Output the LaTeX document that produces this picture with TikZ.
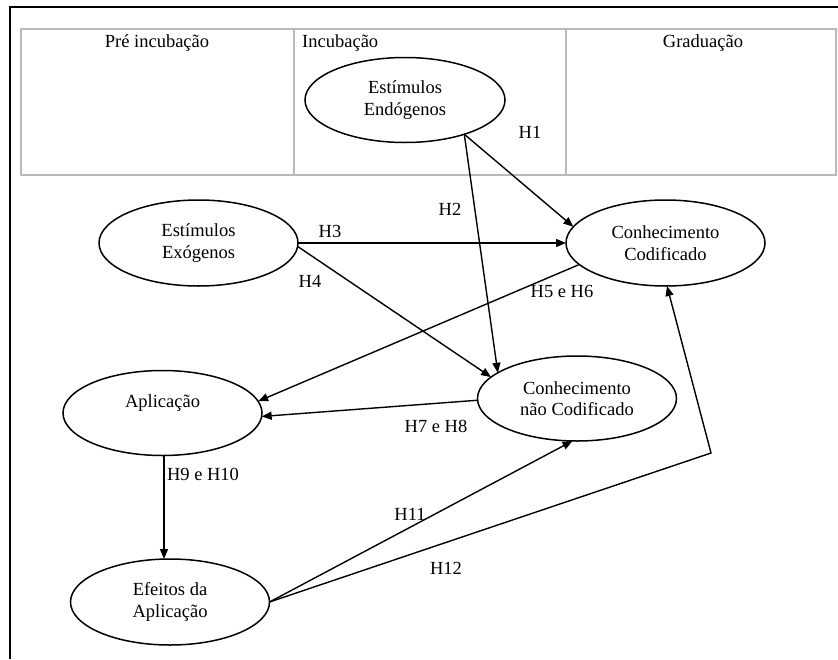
\documentclass[tikz,border=0pt]{standalone}
\usepackage{fontspec}
\setmainfont{Liberation Serif}
\usetikzlibrary{shapes.geometric,arrows.meta}
\begin{document}
\begin{tikzpicture}[x=1pt,y=-1pt,
  txt/.style={font=\fontsize{18.5}{21.5}\selectfont},
  oval/.style={draw,ellipse,line width=1.5pt,inner sep=0pt,outer sep=0pt,align=center,
    minimum width=199pt,minimum height=86pt,txt},
  lbl/.style={inner sep=0pt,txt},
  arr/.style={line width=1.4pt,-{Triangle[length=10pt,width=8pt]}},
  tabline/.style={draw=gray!55,line width=2pt},
  frame/.style={draw=black,line width=2pt}]
\useasboundingbox (0,0) rectangle (838,659);
% outer frame
\coordinate (fTL) at (10,7);
\coordinate (fTR) at (838,7);
\coordinate (fBL) at (10,659);
\draw[frame] (fBL) -- (fTL) -- (fTR);
% table
\coordinate (tTL) at (21,29);
\coordinate (tBR) at (836,175);
\draw[tabline] (tTL) rectangle (tBR);
\coordinate (d1t) at (294,29); \coordinate (d1b) at (294,175);
\coordinate (d2t) at (566,29); \coordinate (d2b) at (566,175);
\draw[tabline] (d1t) -- (d1b);
\draw[tabline] (d2t) -- (d2b);
\node[lbl] (hpre) at (157,43) {Pré incubação};
\node[lbl,anchor=west] (hinc) at (302,43) {Incubação};
\node[lbl] (hgrad) at (703,43) {Graduação};
% ellipses
\node[oval,minimum width=200pt,minimum height=85pt] (endo) at (405,100) {Estímulos\\Endógenos};
\node[oval] (exo) at (198.5,243) {Estímulos\\Exógenos};
\node[oval] (cod) at (665.5,243) {Conhecimento\\Codificado};
\node[oval,minimum height=85pt] (apl) at (162.5,413) {\raisebox{10pt}[\height][\depth]{Aplicação}};
\node[oval,minimum height=85pt] (nc) at (577,398.5) {Conhecimento\\não Codificado};
\node[oval] (efe) at (170,602) {Efeitos da\\Aplicação};
% connectors
\draw[arr] (endo.-30) -- (cod.170);
\draw[arr] (endo.-30) -- (nc.162);
\draw[arr] (exo.east) -- (cod.west);
\draw[arr] (exo.-2) -- (nc.166);
\draw[arr] (cod.194) -- (apl.7);
\draw[arr] (nc.181) -- (apl.-2);
\draw[arr] (apl.-88) -- (apl.-88 |- efe.north);
\draw[arr] (efe.east) -- (nc.-96);
\coordinate (bend) at (711,453);
\draw[arr] (efe.east) -- (bend) -- (cod.-88);
% labels
\node[lbl] (h1) at (530,132) {H1};
\node[lbl] (h2) at (450,209) {H2};
\node[lbl] (h3) at (330,231) {H3};
\node[lbl] (h4) at (310,281) {H4};
\node[lbl] (h56) at (562,291) {H5 e H6};
\node[lbl] (h78) at (436,426) {H7 e H8};
\node[lbl] (h910) at (203,474) {H9 e H10};
\node[lbl] (h11) at (410,514) {H11};
\node[lbl] (h12) at (446,568) {H12};
\end{tikzpicture}
\end{document}
